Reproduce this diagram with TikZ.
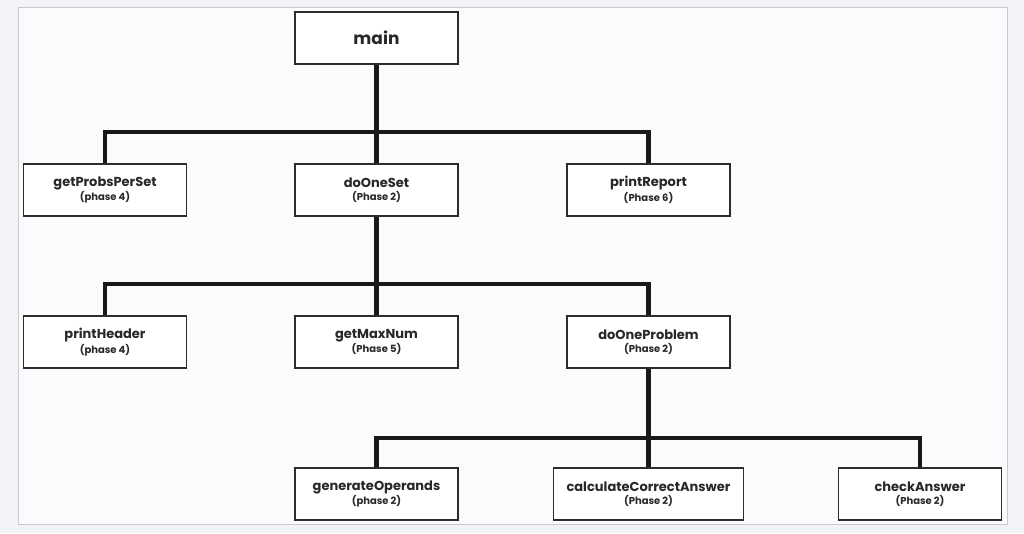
\documentclass[tikz,border=0pt]{standalone}
\usepackage{fontspec}
\setmainfont{Poppins}
\usepackage{tikz}
\usetikzlibrary{calc}
\definecolor{cpage}{RGB}{242,243,247}
\definecolor{cpanel}{RGB}{250,251,253}
\definecolor{cframe}{RGB}{200,202,206}
\definecolor{cbox}{RGB}{45,45,45}
\definecolor{ctext}{RGB}{40,40,40}
\tikzset{
  fn/.style={rectangle, draw=cbox, fill=white, line width=1.3pt,
    minimum width=163pt, minimum height=52pt, inner sep=0pt,
    align=center, text=ctext, font=\bfseries},
  link/.style={line width=4.6pt, draw=black!90, line join=miter}
}
\newcommand{\fname}[2]{{\fontsize{13}{14}\selectfont #1}\\[1pt]{\fontsize{10}{11}\selectfont (#2)}}

\begin{document}
\begin{tikzpicture}[x=1pt, y=-1pt]
  % page and frame
  \fill[cpage] (0,0) rectangle (1024,533);
  \filldraw[fill=cpanel, draw=cframe, line width=1pt] (18,7.5) rectangle (1007.5,524.5);
  \useasboundingbox (0,0) rectangle (1024,533);

  % top
  \node[fn, font=\bfseries\fontsize{17}{20}\selectfont] (main) at (376.5,38) {main};

  % level 1
  \node[fn] (getProbs) at (105,190) {\fname{getProbsPerSet}{phase 4}};
  \node[fn] (doOneSet) at (376.5,190) {\fname{doOneSet}{Phase 2}};
  \node[fn] (printReport) at (648.5,190) {\fname{printReport}{Phase 6}};

  % level 2
  \node[fn] (printHeader) at (105,342) {\fname{printHeader}{phase 4}};
  \node[fn] (getMaxNum) at (376.5,342) {\fname{getMaxNum}{Phase 5}};
  \node[fn] (doOneProblem) at (648.5,342) {\fname{doOneProblem}{Phase 2}};

  % level 3
  \node[fn] (genOps) at (376.5,494) {\fname{generateOperands}{phase 2}};
  \node[fn, minimum width=190pt] (calcAns) at (648.5,494) {\fname{calculateCorrectAnswer}{Phase 2}};
  \node[fn] (checkAns) at (920,494) {\fname{checkAnswer}{Phase 2}};

  % connectors
  \coordinate (bus1) at (376.5,132);
  \coordinate (bus2) at (376.5,284);
  \coordinate (bus3) at (648.5,438);
  \draw[link] (main.south) -- (doOneSet.north);
  \draw[link] (getProbs.north) |- (bus1) -| (printReport.north);
  \draw[link] (doOneSet.south) -- (getMaxNum.north);
  \draw[link] (printHeader.north) |- (bus2) -| (doOneProblem.north);
  \draw[link] (doOneProblem.south) -- (calcAns.north);
  \draw[link] (genOps.north) |- (bus3) -| (checkAns.north);
\end{tikzpicture}
\end{document}
